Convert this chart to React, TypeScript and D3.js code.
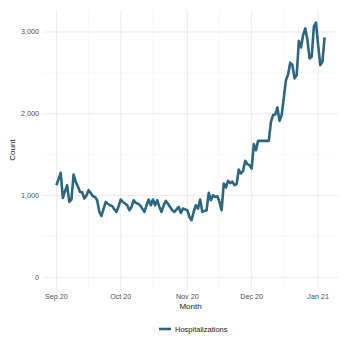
import React from "react";
import * as d3 from "d3";

const startDate = "2020-09-01";
const hospitalizations: number[] = [
  1126, 1200, 1277, 970, 1050, 1126, 922, 950, 1257, 1167,
  1110, 1044, 1040, 963, 1000, 1065, 1030, 990, 983, 942,
  800, 750, 840, 922, 900, 881, 870, 830, 800, 870,
  951, 920, 902, 880, 820, 860, 942, 910, 900, 881,
  840, 800, 880, 951, 881, 951, 881, 942, 860, 800,
  880, 934, 900, 860, 820, 800, 830, 860, 787, 840,
  830, 820, 738, 698, 800, 881, 840, 951, 800, 810,
  820, 1032, 942, 1004, 983, 990, 922, 820, 1147, 1098,
  1179, 1150, 1170, 1126, 1140, 1318, 1269, 1300, 1424, 1383,
  1371, 1330, 1628, 1554, 1668, 1668, 1668, 1668, 1668, 1668,
  1901, 1983, 1990, 2077, 1913, 1983, 2200, 2411, 2480, 2623,
  2595, 2432, 2473, 2892, 2811, 2962, 3044, 2901, 2677, 2697,
  3064, 3113, 2840, 2595, 2636, 2934,
];
const yTicks = [0, 1000, 2000, 3000];
const yMinor = [500, 1500, 2500];
const xTickDates = ["2020-09-01", "2020-10-01", "2020-11-01", "2020-12-01", "2021-01-01"];
const xTickLabels = ["Sep 20", "Oct 20", "Nov 20", "Dec 20", "Jan 21"];
const xMinorDates = ["2020-09-16", "2020-10-16", "2020-11-16", "2020-12-16"];
const seriesName = "Hospitalizations";

const parse = d3.utcParse("%Y-%m-%d");

export default function App() {
  const W = 349, H = 349;
  const left = 43, right = 338, top = 10, bottom = 290;
  const t0 = parse(startDate)!;
  const data = hospitalizations.map((v, i) => ({ date: d3.utcDay.offset(t0, i), v }));
  const tMin = data[0].date.getTime();
  const tMax = data[data.length - 1].date.getTime();
  const xpad = (tMax - tMin) * 0.05;
  const x = d3.scaleUtc().domain([new Date(tMin - xpad), new Date(tMax + xpad)]).range([left, right]);
  const vMax = d3.max(hospitalizations)!;
  const ypad = vMax * 0.05;
  const y = d3.scaleLinear().domain([-ypad, vMax + ypad]).range([bottom, top]);
  const line = d3.line<{ date: Date; v: number }>().x(d => x(d.date)).y(d => y(d.v)).curve(d3.curveLinear);
  const fmt = d3.format(",");
  const font = "'Liberation Sans', Arial, sans-serif";
  const color = "#2b6682";
  return (
    <svg width={W} height={H} style={{ position: "absolute", left: 0, top: 0, background: "#fff" }} fontFamily={font}>
      {yMinor.map(v => (
        <line key={"ym" + v} x1={left} x2={right} y1={y(v)} y2={y(v)} stroke="#f2f2f2" strokeWidth={0.6} />
      ))}
      {xMinorDates.map(d => (
        <line key={"xm" + d} x1={x(parse(d)!)} x2={x(parse(d)!)} y1={top} y2={bottom} stroke="#f2f2f2" strokeWidth={0.6} />
      ))}
      {yTicks.map(v => (
        <line key={"y" + v} x1={left} x2={right} y1={y(v)} y2={y(v)} stroke="#ebebeb" strokeWidth={1} />
      ))}
      {xTickDates.map(d => (
        <line key={"x" + d} x1={x(parse(d)!)} x2={x(parse(d)!)} y1={top} y2={bottom} stroke="#ebebeb" strokeWidth={1} />
      ))}
      <path d={line(data)!} fill="none" stroke={color} strokeWidth={2.6} strokeLinejoin="round" strokeLinecap="butt" />
      {yTicks.map(v => (
        <text key={"yl" + v} x={left - 4} y={y(v)} dy="0.35em" textAnchor="end" fontSize={7.2} fill="#4d4d4d">{fmt(v)}</text>
      ))}
      {xTickDates.map((d, i) => (
        <text key={"xl" + d} x={x(parse(d)!)} y={299} textAnchor="middle" fontSize={7.2} fill="#4d4d4d">{xTickLabels[i]}</text>
      ))}
      <text x={(left + right) / 2} y={308.5} textAnchor="middle" fontSize={8} fill="#1a1a1a">Month</text>
      <text transform={`translate(15,${(top + bottom) / 2}) rotate(-90)`} textAnchor="middle" fontSize={8} fill="#1a1a1a">Count</text>
      <line x1={159} x2={171} y1={329} y2={329} stroke={color} strokeWidth={2.6} />
      <text x={175} y={329} dy="0.35em" fontSize={7.5} fill="#1a1a1a">{seriesName}</text>
    </svg>
  );
}
